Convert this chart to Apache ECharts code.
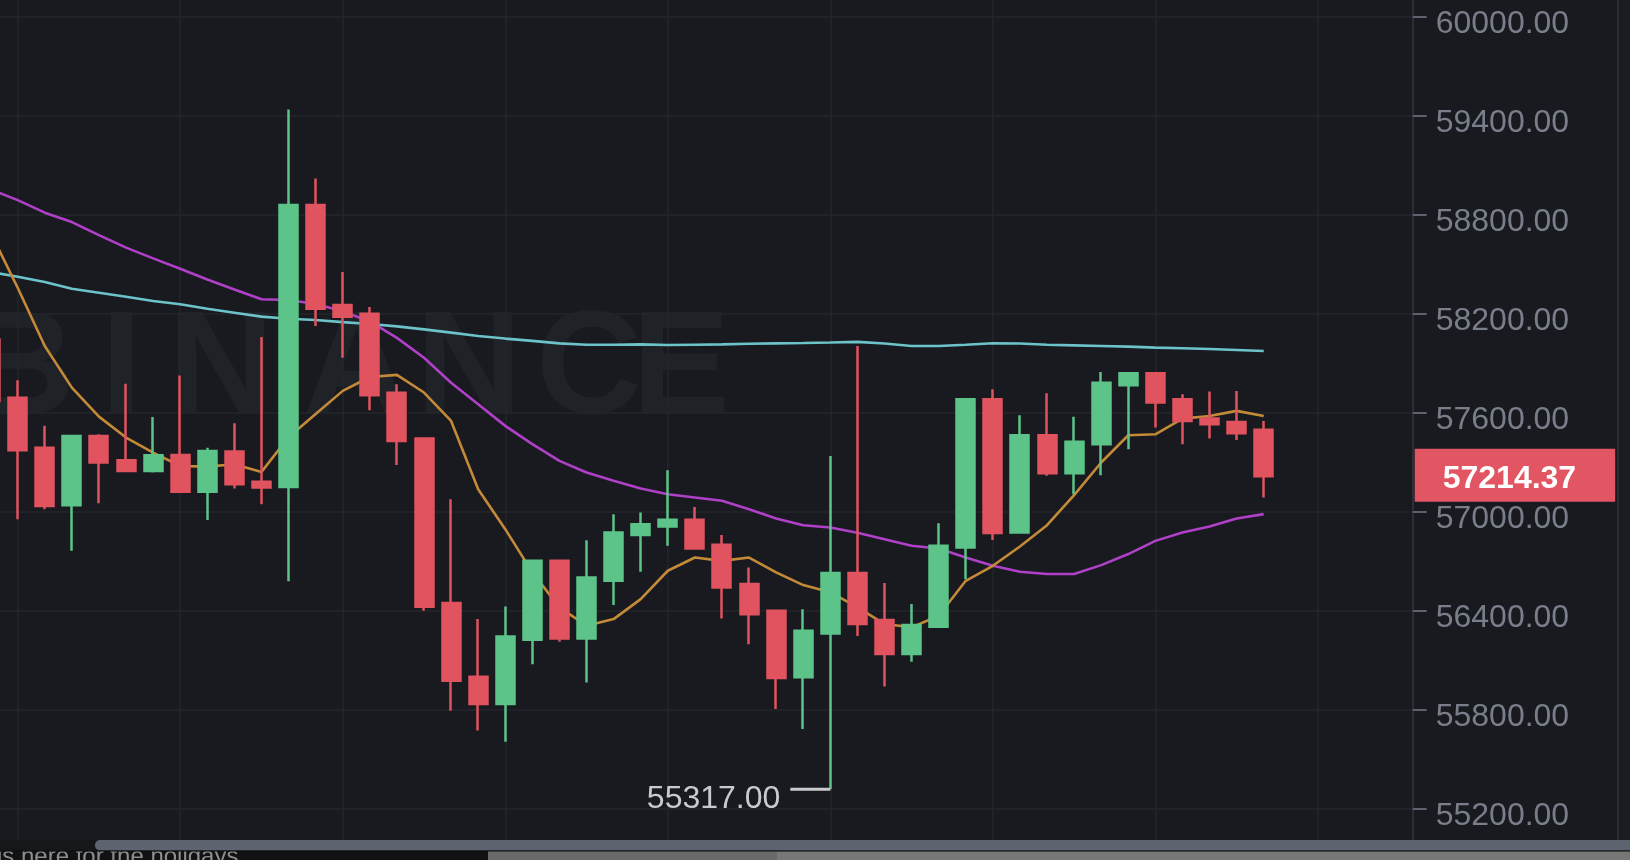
<!DOCTYPE html>
<html>
<head>
<meta charset="utf-8">
<script src="https://cdn.jsdelivr.net/npm/echarts@6/dist/echarts.min.js"></script>
<style>
html,body{margin:0;padding:0;background:#181a1f;overflow:hidden;}
#main{width:1630px;height:860px;}
</style>
</head>
<body>
<div id="main"></div>
<script>
// ---- data (one entry per candle, oldest first) ----
const openP  = [58043,57690,57387,57038,57458,57311,57246,57343,57119,57363,57181,57149,58857,58251,58199,57720,
                57442,56445,55999,55833,56223,56701,56231,56580,56857,56909,56950,56798,56560,56398,55995,56261,
                56627,56342,56136,56302,56782,57680,56873,57462,57232,57408,57765,57838,57680,57563,57543,57495];
const closeP = [57670,57371,57034,57458,57297,57246,57341,57119,57367,57165,57145,58857,58229,58181,57704,57428,
                56423,55974,55833,56243,56701,56231,56600,56873,56923,56950,56776,56540,56378,55991,56277,56627,
                56318,56136,56312,56792,57680,56869,57462,57232,57422,57781,57838,57660,57549,57529,57474,57214.37];
const lowP   = [57640,56953,57014,56762,57050,57240,57236,57115,56949,57139,57044,56578,58124,57932,57613,57282,
                56398,55793,55672,55605,56075,56211,55964,56433,56635,56792,56768,56352,56196,55803,55682,55317,
                56245,55940,56090,56298,56590,56828,56869,57216,57105,57220,57378,57509,57408,57442,57434,57085];
const highP  = [58080,57795,57519,57462,57468,57775,57573,57825,57387,57535,58058,59436,59018,58451,58239,57771,
                57450,57075,56348,56425,56705,56705,56826,56984,56994,57250,57028,56857,56661,56404,56408,57337,
                58003,56566,56439,56929,57685,57741,57583,57717,57575,57846,57846,57842,57711,57727,57731,57549];
const ma7    = [58690,58356,58003,57751,57575,57448,57357,57276,57272,57286,57240,57450,57591,57731,57815,57828,
                57721,57549,57135,56893,56631,56419,56308,56348,56469,56641,56721,56701,56721,56631,56554,56510,
                56420,56318,56298,56368,56580,56671,56788,56917,57099,57297,57462,57468,57563,57579,57610,57579];
const ma25   = [58952,58887,58811,58754,58675,58599,58534,58471,58406,58346,58286,58282,58258,58213,58152,58052,
                57932,57780,57650,57519,57408,57307,57236,57186,57139,57105,57085,57065,57014,56958,56917,56903,
                56871,56832,56792,56776,56721,56671,56635,56621,56621,56675,56742,56822,56873,56909,56958,56984];
const ma99   = [58451,58423,58391,58350,58326,58302,58276,58256,58229,58205,58181,58168,58161,58148,58136,58122,
                58104,58084,58064,58048,58034,58019,58011,58011,58013,58009,58011,58013,58017,58019,58021,58024,
                58028,58018,58003,58003,58011,58020,58018,58011,58007,58003,57999,57993,57989,57985,57979,57973];
const emptySlots = 5;                       // blank bars to the right of the last candle
const categories = Array.from({length: openP.length + emptySlots}, (_, i) => 'K' + i);
const yMin = 54600, yMax = 60600, yStep = 600;
const lastPrice = 57214.37;
const lowMarkIndex = 31, lowMarkValue = 55317.00;
const vGridSlots = [1, 7, 13, 19, 25, 31, 37, 43, 49];
const watermarkLetters = ['B','I','N','A','N','C','E'];
const tickerText = 'is here for the holidays.';

// ---- chart ----
const FONT = '"Liberation Sans", Arial, Helvetica, sans-serif';
const GREEN = '#5cc489', RED = '#e0535f';
const candleData = openP.map((o, i) => [o, closeP[i], lowP[i], highP[i]]);

const letterX = [-31, 101, 168, 303, 416, 536, 632];
const watermark = watermarkLetters.map((ch, i) => ({
  type: 'text', z: -10, silent: true,
  x: letterX[i], y: 372.5,
  style: {text: ch, fill: '#1f2227', fontSize: 147, fontWeight: 'bold', fontFamily: FONT,
          align: 'left', verticalAlign: 'middle'}
}));

const chart = echarts.init(document.getElementById('main'), null, {renderer: 'canvas'});
chart.setOption({
  backgroundColor: '#181a1f',
  animation: false,
  grid: {left: -22.94, right: 217.3, top: -82.5, bottom: -47.5, containLabel: false, outerBoundsMode: 'none'},
  xAxis: {
    type: 'category', data: categories, boundaryGap: true,
    axisLine: {show: false}, axisTick: {show: false}, axisLabel: {show: false}, splitLine: {show: false}
  },
  yAxis: {
    type: 'value', position: 'right', min: yMin, max: yMax, interval: yStep,
    axisLine: {show: true, lineStyle: {color: '#2a2e35', width: 2}},
    axisTick: {show: true, length: 14, lineStyle: {color: '#5d636e', width: 2}},
    axisLabel: {color: '#787e8a', fontSize: 32, fontFamily: FONT, margin: 23,
                verticalAlign: 'top', lineHeight: 15, formatter: v => v.toFixed(2)},
    splitLine: {show: true, lineStyle: {color: '#23262c', width: 1.5}}
  },
  graphic: {elements: watermark.concat([
    {type: 'rect', z: 100, silent: true, shape: {x: 1618, y: 0, width: 12, height: 840}, style: {fill: '#1a1c21'}},
    {type: 'rect', z: 100, silent: true, shape: {x: 1617, y: 0, width: 2, height: 840}, style: {fill: '#2a2d33'}},
    {type: 'rect', z: 100, silent: true, shape: {x: 0, y: 851, width: 488, height: 9}, style: {fill: '#111214'}},
    {type: 'rect', z: 100, silent: true, shape: {x: 488, y: 851, width: 289, height: 9}, style: {fill: '#6a6a6a'}},
    {type: 'rect', z: 100, silent: true, shape: {x: 777, y: 851, width: 853, height: 9}, style: {fill: '#777777'}},
    {type: 'text', z: 101, silent: true, x: -3, y: 857.5,
     style: {text: tickerText, fill: '#8e8e8e', fontSize: 24, fontFamily: FONT, align: 'left', verticalAlign: 'middle'}},
    {type: 'rect', z: 102, silent: true, shape: {x: 0, y: 840, width: 1630, height: 11}, style: {fill: '#15171b'}},
    {type: 'rect', z: 103, silent: true, shape: {x: 95, y: 840, width: 1560, height: 10.5, r: 5}, style: {fill: '#5e6370'}},
    {type: 'rect', z: 103, silent: true, shape: {x: 0, y: 850.5, width: 1630, height: 1}, style: {fill: '#0d0e10'}}
  ])},
  series: [
    {
      type: 'line', data: ma99, symbol: 'none', silent: true, z: 1,
      lineStyle: {color: '#6cc3c9', width: 2.6},
      markLine: {
        z: 0, silent: true, symbol: ['none', 'none'], animation: false,
        label: {show: false},
        lineStyle: {color: '#23262c', width: 1.5, type: 'solid'},
        data: vGridSlots.map(j => ({xAxis: categories[j]}))
      }
    },
    {type: 'line', data: ma25, symbol: 'none', silent: true, z: 1, lineStyle: {color: '#b040c8', width: 2.6}},
    {type: 'line', data: ma7, symbol: 'none', silent: true, z: 1, lineStyle: {color: '#c48a38', width: 2.6}},
    {
      type: 'candlestick', data: candleData, barWidth: 18.5, z: 2, silent: true,
      itemStyle: {color: GREEN, color0: RED, borderColor: GREEN, borderColor0: RED, borderWidth: 2.5},
      markLine: {
        silent: true, symbol: ['none', 'none'], animation: false,
        lineStyle: {color: 'rgba(0,0,0,0)', width: 1},
        label: {show: true, position: 'end', distance: 2, offset: [0, -1],
                formatter: '{p|' + lastPrice.toFixed(2) + '}',
                backgroundColor: '#e25562', padding: [10.5, 39, 10.5, 28],
                rich: {p: {color: '#ffffff', fontSize: 32, fontWeight: 'bold', fontFamily: FONT,
                           lineHeight: 32, padding: [9, 0, 0, 0]}}},
        data: [{yAxis: lastPrice}]
      },
      markPoint: {
        silent: true, animation: false,
        symbol: 'rect', symbolSize: [40, 3], symbolOffset: [-20, 0],
        itemStyle: {color: '#c8cacd'},
        label: {show: true, position: 'left', distance: 10, color: '#c8cacd', fontSize: 32, fontFamily: FONT,
                verticalAlign: 'top', lineHeight: 19, formatter: () => lowMarkValue.toFixed(2)},
        data: [{coord: [categories[lowMarkIndex], lowMarkValue]}]
      }
    }
  ]
});
</script>
</body>
</html>
